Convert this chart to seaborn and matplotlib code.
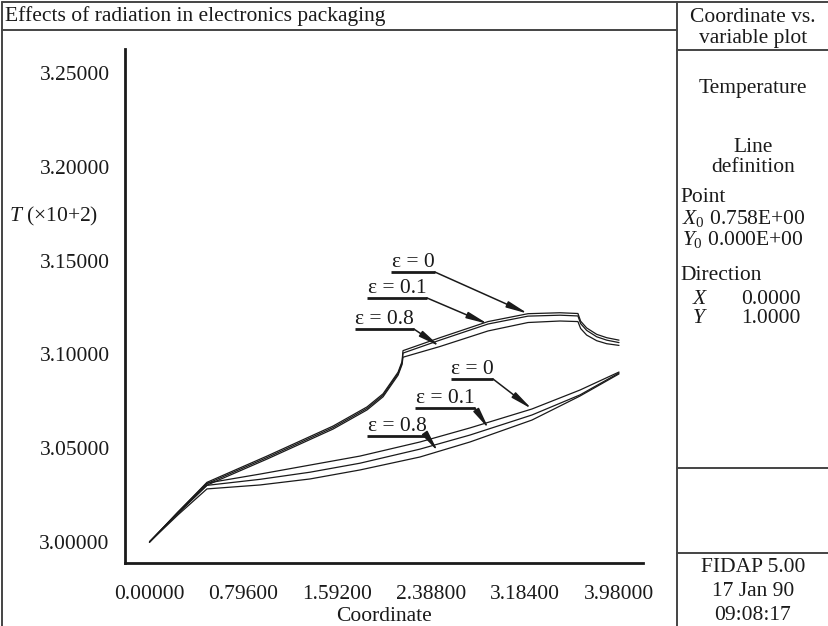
import numpy as np
import pandas as pd
import matplotlib
matplotlib.use("Agg")
import matplotlib.pyplot as plt
import seaborn as sns
from matplotlib.lines import Line2D

# ---- temperature profiles along the probe line (T in units of 10^2) ----
upper_x = [0.000, 0.242, 0.487, 0.996, 1.556, 1.844, 1.980, 2.107, 2.141, 2.149,
           2.462, 2.870, 3.209, 3.480, 3.632, 3.655, 3.706, 3.791, 3.876, 3.980]
T_upper_eps0 = [3.0000, 3.0160, 3.0318, 3.0458, 3.0618, 3.0720, 3.0790, 3.0905, 3.0962, 3.1020,
                3.1089, 3.1175, 3.1217, 3.1222, 3.1218, 3.1177, 3.1141, 3.1107, 3.1089, 3.1076]
T_upper_eps01 = [3.0000, 3.0157, 3.0311, 3.0450, 3.0610, 3.0712, 3.0782, 3.0897, 3.0954, 3.1007,
                 3.1076, 3.1162, 3.1204, 3.1209, 3.1205, 3.1164, 3.1128, 3.1094, 3.1076, 3.1063]
T_upper_eps08 = [3.0000, 3.0153, 3.0303, 3.0442, 3.0602, 3.0704, 3.0774, 3.0889, 3.0946, 3.0985,
                 3.1042, 3.1125, 3.1170, 3.1178, 3.1175, 3.1138, 3.1103, 3.1073, 3.1057, 3.1048]

lower_x = [0.000, 0.242, 0.487, 0.936, 1.360, 1.784, 2.292, 2.716, 3.242, 3.649, 3.980]
T_lower_eps0 = [3.0000, 3.0160, 3.0314, 3.0362, 3.0410, 3.0458, 3.0533, 3.0608, 3.0709, 3.0810, 3.0906]
T_lower_eps01 = [3.0000, 3.0154, 3.0302, 3.0334, 3.0372, 3.0420, 3.0495, 3.0570, 3.0677, 3.0784, 3.0901]
T_lower_eps08 = [3.0000, 3.0145, 3.0283, 3.0304, 3.0336, 3.0384, 3.0453, 3.0533, 3.0650, 3.0778, 3.0896]

x_ticks = [0.0, 0.796, 1.592, 2.388, 3.184, 3.98]
y_ticks = [3.00, 3.05, 3.10, 3.15, 3.20, 3.25]

# label: (text, curve, underline x0, underline x1, underline T, arrow-tip coordinate)
eps_labels = [
    ("ε = 0",   "upper_0",  2.047, 2.420, 3.1439, 3.209),
    ("ε = 0.1", "upper_01", 1.844, 2.352, 3.1301, 2.870),
    ("ε = 0.8", "upper_08", 1.742, 2.242, 3.1135, 2.462),
    ("ε = 0",   "lower_0",  2.556, 2.912, 3.0869, 3.242),
    ("ε = 0.1", "lower_01", 2.251, 2.759, 3.0714, 2.877),
    ("ε = 0.8", "lower_08", 1.844, 2.352, 3.0565, 2.446),
]

curves = {
    "upper_0": (upper_x, T_upper_eps0),
    "upper_01": (upper_x, T_upper_eps01),
    "upper_08": (upper_x, T_upper_eps08),
    "lower_0": (lower_x, T_lower_eps0),
    "lower_01": (lower_x, T_lower_eps01),
    "lower_08": (lower_x, T_lower_eps08),
}
df = pd.concat(
    [pd.DataFrame({"coordinate": xs, "T": ts, "curve": name}) for name, (xs, ts) in curves.items()],
    ignore_index=True,
)

sns.set_style("white")
plt.rcParams["font.family"] = ["Liberation Serif", "DejaVu Serif"]
plt.rcParams["mathtext.fontset"] = "custom"
plt.rcParams["mathtext.rm"] = "Liberation Serif"
plt.rcParams["mathtext.it"] = "Liberation Serif:italic"
FS = 15.5
INK = "#1a1a1a"
FRAME = "#444444"

W, H = 829, 626
fig = plt.figure(figsize=(W / 100, H / 100), dpi=100)


def fx(px):
    return px / W


def fy(py):
    return 1 - py / H


# plotting area
ax_l, ax_r, ax_t, ax_b = 125, 643, 49, 563
ax = fig.add_axes([fx(ax_l), fy(ax_b), (ax_r - ax_l) / W, (ax_b - ax_t) / H])

sns.lineplot(data=df, x="coordinate", y="T", units="curve", estimator=None, sort=False,
             color=INK, linewidth=0.9, legend=False, ax=ax)

ax.set_xlim(-0.2077, 4.1836)
ax.set_ylim(2.98881, 3.26279)
ax.set_xticks(x_ticks)
ax.set_xticklabels([f"{v:.5f}" for v in x_ticks])
ax.set_yticks(y_ticks)
ax.set_yticklabels([f"{v:.5f}" for v in y_ticks])
ax.tick_params(direction="out", length=7, width=1.6, labelsize=FS, colors=INK)
ax.tick_params(axis="x", pad=9)
ax.tick_params(axis="y", pad=4)
for side in ("top", "right"):
    ax.spines[side].set_visible(False)
for side in ("left", "bottom"):
    ax.spines[side].set_linewidth(2.0)
    ax.spines[side].set_color(INK)
ax.set_xlabel("Coordinate", fontsize=FS, labelpad=2, color=INK)
ax.set_ylabel("")

# epsilon labels with underline and arrow to their curve
for text, name, x0, x1, yl, tip_x in eps_labels:
    xs, ts = curves[name]
    tip_y = np.interp(tip_x, xs, ts)
    ax.plot([x0, x1], [yl, yl], color=INK, lw=2.0, solid_capstyle="butt")
    ax.annotate(text, xy=((x0 + x1) / 2, yl), ha="center", va="bottom",
                fontsize=FS, color=INK)
    ax.annotate("", xy=(tip_x, tip_y), xytext=(x1, yl),
                arrowprops=dict(arrowstyle="-|>,head_length=0.85,head_width=0.13",
                                color=INK, lw=1.1, shrinkA=0, shrinkB=0,
                                mutation_scale=15))

# outer frame and side panel rules
frame_lines = [
    ((2, 2), (W, 2)),
    ((2, 2), (2, H)),
    ((677, 2), (677, H)),
    ((2, 30), (677, 30)),
    ((677, 50), (W, 50)),
    ((677, 468), (W, 468)),
    ((677, 553), (W, 553)),
]
for (x0, y0), (x1, y1) in frame_lines:
    fig.add_artist(Line2D([fx(x0), fx(x1)], [fy(y0), fy(y1)], color=FRAME, lw=1.4,
                          transform=fig.transFigure))

fig.text(fx(5), fy(16), "Effects of radiation in electronics packaging",
         ha="left", va="center", fontsize=FS, color=INK)
fig.text(fx(9), fy(216), r"$T$ (×10+2)", ha="left", va="center", fontsize=FS, color=INK)

cx = 753
panel_center = [
    ("Coordinate vs.", 17), ("variable plot", 38), ("Temperature", 88),
    ("Line", 148), ("definition", 168),
    ("FIDAP 5.00", 568), ("17 Jan 90", 592), ("09:08:17", 615),
]
for txt, py in panel_center:
    fig.text(fx(cx), fy(py), txt, ha="center", va="center", fontsize=FS, color=INK)

fig.text(fx(680), fy(198), "Point", ha="left", va="center", fontsize=FS, color=INK)
fig.text(fx(682), fy(219), r"$X_0$ 0.758E+00", ha="left", va="center", fontsize=FS, color=INK)
fig.text(fx(682), fy(239), r"$Y_0$ 0.000E+00", ha="left", va="center", fontsize=FS, color=INK)
fig.text(fx(680), fy(276), "Direction", ha="left", va="center", fontsize=FS, color=INK)
fig.text(fx(693), fy(300), "X", ha="left", va="center", fontsize=FS, style="italic", color=INK)
fig.text(fx(801), fy(300), "0.0000", ha="right", va="center", fontsize=FS, color=INK)
fig.text(fx(693), fy(318), "Y", ha="left", va="center", fontsize=FS, style="italic", color=INK)
fig.text(fx(801), fy(318), "1.0000", ha="right", va="center", fontsize=FS, color=INK)

fig.savefig("out.png", dpi=100)
